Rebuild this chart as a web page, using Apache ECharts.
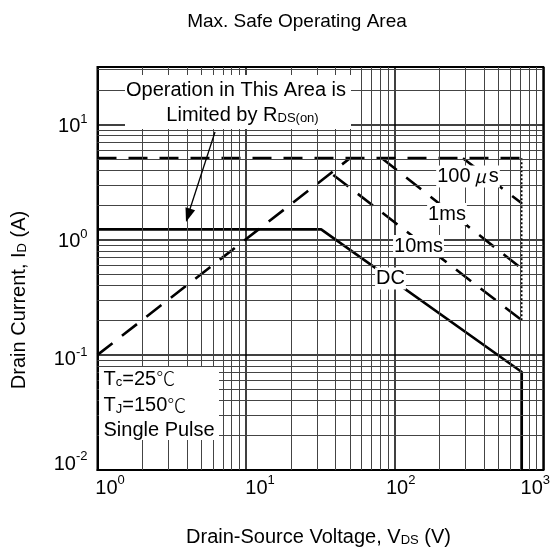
<!DOCTYPE html>
<html><head><meta charset="utf-8">
<script src="https://cdn.jsdelivr.net/npm/echarts@6/dist/echarts.min.js"></script>
<style>html,body{margin:0;padding:0;background:#fff}#c{width:551px;height:548px}</style>
</head><body><div id="c"></div>
<script>
const FONT = '"Liberation Sans", Arial, sans-serif';
const CJK = '"Noto Sans CJK SC", sans-serif';

// axis ranges and grid values
const xRange = [1, 1000];
const yRange = [0.01, 31.62];
const xMinorGrid = [2,3,4,5,6,7,8,9,20,30,40,50,60,70,80,90,200,300,400,500,600,700,800,900];
const yMinorGrid = [0.02,0.03,0.04,0.05,0.06,0.07,0.08,0.09,0.2,0.3,0.4,0.5,0.6,0.7,0.8,0.9,2,3,4,5,6,7,8,9,20,30];

// SOA boundary curves [V_DS (V), I_D (A)]
const dcLimit = [[1,1.23],[32,1.23],[716,0.071],[716,0.01]];
const idmLimit = [[1,5.1],[716,5.1]];
const pulseVLimit = [[716,5.1],[716,0.2]];
const rdsLimit = [[1,0.1],[50,5.1]];
const pulse10ms = [[38.6,3.65],[716,0.2]];
const pulse1ms = [[82,5.1],[716,0.56]];
const pulse100us = [[288,5.1],[716,2.07]];

const chart = echarts.init(document.getElementById('c'), null, {renderer:'canvas', width:551, height:548});

// small label nudges to follow the reference's hand placement (style, not data)
const xNudge = {0:{pre:'p25'}, 1:{pre:'p28'}, 2:{pre:'p12'}, 3:{post:'p16'}};
const yNudge = {'-2':{post:'v16'}, '-1':{pre:'v6'}};

function expOf(v) {
  const l = Math.log10(v), e = Math.round(l);
  return Math.abs(l - e) > 1e-6 ? null : e;
}
function xLabel(v) {
  const e = expOf(v); if (e === null) return '';
  const n = xNudge[e] || {};
  return (n.pre ? '{' + n.pre + '| }' : '') + '{b|10}{s|' + e + '}' + (n.post ? '{' + n.post + '| }' : '');
}
function yLabel(v) {
  const e = expOf(v); if (e === null) return '';
  const n = yNudge[String(e)] || {};
  return (n.pre ? '{' + n.pre + '| }\n' : '') + '{b|10}{s|' + e + '}' + (n.post ? '\n{' + n.post + '| }' : '');
}
const labelRich = {
  b: {fontSize:20, fontFamily:FONT, color:'#000', lineHeight:24, verticalAlign:'bottom'},
  s: {fontSize:13, fontFamily:FONT, color:'#000', lineHeight:13, verticalAlign:'top'},
  p25: {width:25, fontSize:1}, p28: {width:28, fontSize:1}, p12: {width:12, fontSize:1}, p16: {width:16, fontSize:1},
  v16: {lineHeight:16, fontSize:1}, v6: {lineHeight:6, fontSize:1}
};
const dash = [19, 12];
function curve(name, data, type, width) {
  return {name, type:'line', data, symbol:'none', z:3, silent:true,
    lineStyle:{color:'#000', width, type, cap:'butt'}};
}
const subRich = {s:{fontSize:13, fontFamily:FONT, color:'#000', verticalAlign:'bottom', padding:[5,0,0,0]},
                 c:{fontSize:19, fontFamily:CJK, color:'#000', fontWeight:200}};

chart.setOption({
  animation:false,
  backgroundColor:'#fff',
  grid:{left:97.5, right:7.7, top:67, bottom:78, show:true, borderColor:'#000', borderWidth:2,
        containLabel:false, outerBoundsMode:'none'},
  xAxis:{type:'log', logBase:10, min:xRange[0], max:xRange[1],
    axisLine:{show:true, lineStyle:{color:'#000', width:2}}, axisTick:{show:false},
    splitLine:{show:true, lineStyle:{color:'#000', width:1.5}},
    axisLabel:{formatter:xLabel, rich:labelRich, margin:4, showMinLabel:true, showMaxLabel:true, hideOverlap:false}},
  yAxis:{type:'log', logBase:10, min:yRange[0], max:yRange[1],
    axisLine:{show:true, lineStyle:{color:'#000', width:2}}, axisTick:{show:false},
    splitLine:{show:true, lineStyle:{color:'#000', width:1.5}},
    axisLabel:{formatter:yLabel, rich:labelRich, margin:10, showMinLabel:true, showMaxLabel:true, hideOverlap:false}},
  series:[
    {name:'grid', type:'line', data:[], z:1, silent:true,
     markLine:{silent:true, symbol:['none','none'], label:{show:false}, animation:false,
       lineStyle:{color:'#444', width:1, type:'solid'},
       data: xMinorGrid.map(v => ({xAxis:v})).concat(yMinorGrid.map(v => ({yAxis:v})))}},
    curve('DC', dcLimit, 'solid', 2.6),
    curve('IDM', idmLimit, dash, 2.8),
    curve('VDS', pulseVLimit, [2,2], 1.5),
    curve('RDS(on)', rdsLimit, dash, 2.6),
    curve('10ms', pulse10ms, dash, 2.6),
    curve('1ms', pulse1ms, dash, 2.6),
    curve('100us', pulse100us, dash, 2.6)
  ],
  graphic:[
    {type:'text', x:297, y:22, z:100, style:{text:'Max. Safe Operating Area', fontSize:19, fontFamily:FONT, fill:'#000', align:'center', verticalAlign:'middle'}},
    {type:'text', x:19, y:300, z:100, rotation:Math.PI/2, style:{text:'Drain Current, I{s|D} (A)', fontSize:20, fontFamily:FONT, fill:'#000', align:'center', verticalAlign:'middle', rich:subRich}},
    {type:'text', x:318.5, y:537, z:100, style:{text:'Drain-Source Voltage, V{s|DS} (V)', fontSize:20, fontFamily:FONT, fill:'#000', align:'center', verticalAlign:'middle', rich:subRich}},
    {type:'rect', z:100, shape:{x:125, y:75, width:226, height:54}, style:{fill:'#fff'}},
    {type:'text', x:236, y:90, z:101, style:{text:'Operation in This Area is', fontSize:20, fontFamily:FONT, fill:'#000', align:'center', verticalAlign:'middle'}},
    {type:'text', x:242.5, y:115, z:101, style:{text:'Limited by R{s|DS(on)}', fontSize:20, fontFamily:FONT, fill:'#000', align:'center', verticalAlign:'middle', rich:subRich}},
    {type:'line', z:100, shape:{x1:215, y1:132, x2:189, y2:212}, style:{stroke:'#000', lineWidth:1.3}},
    {type:'polygon', z:100, shape:{points:[[186,222],[195.1,210.2],[185.5,207.2]]}, style:{fill:'#000'}},
    {type:'rect', z:100, shape:{x:99, y:367, width:120, height:73}, style:{fill:'#fff'}},
    {type:'text', x:103.5, y:379, z:101, style:{text:'T{s|c}=25{c|℃}', fontSize:20, fontFamily:FONT, fill:'#000', align:'left', verticalAlign:'middle', rich:subRich}},
    {type:'text', x:103.5, y:405.5, z:101, style:{text:'T{s|J}=150{c|℃}', fontSize:20, fontFamily:FONT, fill:'#000', align:'left', verticalAlign:'middle', rich:subRich}},
    {type:'text', x:103.5, y:430, z:101, style:{text:'Single Pulse', fontSize:20, fontFamily:FONT, fill:'#000', align:'left', verticalAlign:'middle'}},
    {type:'text', x:468, y:176.5, z:101, style:{text:'100{mu|μ}s', fontSize:20, fontFamily:FONT, fill:'#000', align:'center', verticalAlign:'middle', backgroundColor:'#fff', padding:[1,1],
       rich:{mu:{fontSize:18, fontFamily:CJK, fontStyle:'italic', color:'#000', padding:[0,3,0,4]}}}},
    {type:'text', x:447, y:214, z:101, style:{text:'1ms', fontSize:20, fontFamily:FONT, fill:'#000', align:'center', verticalAlign:'middle', backgroundColor:'#fff', padding:[1,1]}},
    {type:'text', x:418.5, y:246, z:101, style:{text:'10ms', fontSize:20, fontFamily:FONT, fill:'#000', align:'center', verticalAlign:'middle', backgroundColor:'#fff', padding:[1,1]}},
    {type:'text', x:390.5, y:278.5, z:101, style:{text:'DC', fontSize:20, fontFamily:FONT, fill:'#000', align:'center', verticalAlign:'middle', backgroundColor:'#fff', padding:[1,1]}}
  ]
});
</script></body></html>
